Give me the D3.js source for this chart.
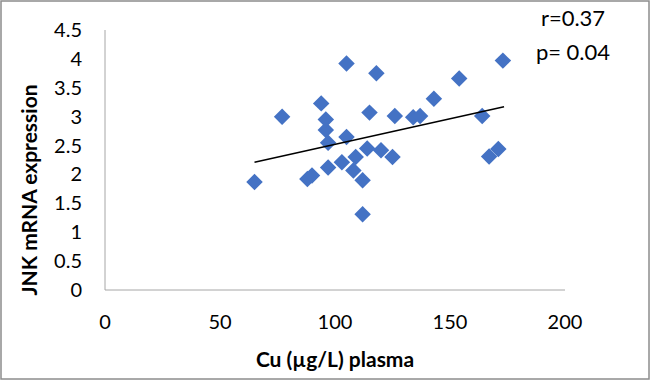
<!DOCTYPE html>
<html>
<head>
<meta charset="utf-8">
<script src="https://cdn.jsdelivr.net/npm/d3@7"></script>
<style>
  html, body { margin: 0; padding: 0; background: #fff; }
  svg { display: block; font-family: Lato, "Open Sans", sans-serif; }
</style>
</head>
<body>
<div id="chart"></div>
<script>
// Cu plasma (x) vs JNK mRNA expression (y)
const cuValues = [65, 77, 88, 90, 94, 96, 96, 97, 97, 103, 105, 105, 108, 109, 112, 112, 114, 115, 118, 120, 125, 126, 134, 137, 143, 154, 164, 167, 171, 173];
const jnkValues = [1.87, 3.0, 1.92, 1.98, 3.23, 2.77, 2.95, 2.12, 2.55, 2.21, 3.92, 2.65, 2.07, 2.3, 1.9, 1.31, 2.45, 3.07, 3.75, 2.42, 2.3, 3.01, 2.99, 3.01, 3.31, 3.66, 3.01, 2.31, 2.44, 3.97];

// linear trend line end points
const trendX = [65, 173.5];
const trendY = [2.21, 3.17];

const xTicks = [0, 50, 100, 150, 200];
const yTicks = [0, 0.5, 1, 1.5, 2, 2.5, 3, 3.5, 4, 4.5];
const statsText = ["r=0.37", "p= 0.04"];

const width = 650;
const height = 381;

const x = d3.scaleLinear().domain([0, 200]).range([105, 565]);
const y = d3.scaleLinear().domain([0, 4.5]).range([290, 30]);

const svg = d3.select("#chart")
    .append("svg")
    .attr("width", width)
    .attr("height", height);

// outer frame
svg.append("rect")
    .attr("x", 1).attr("y", 1)
    .attr("width", width - 2).attr("height", height - 3)
    .attr("fill", "#fff")
    .attr("stroke", "#8c8c8c")
    .attr("stroke-width", 1.5);

// axes lines
svg.append("line")
    .attr("x1", x(0)).attr("x2", x(0))
    .attr("y1", y(4.5)).attr("y2", y(0))
    .attr("stroke", "#a6a6a6").attr("stroke-width", 1);
svg.append("line")
    .attr("x1", x(0)).attr("x2", x(200))
    .attr("y1", y(0)).attr("y2", y(0))
    .attr("stroke", "#a6a6a6").attr("stroke-width", 1);

// tick labels
svg.append("g")
    .selectAll("text")
    .data(yTicks)
    .join("text")
    .attr("x", 82)
    .attr("y", d => y(d))
    .attr("dy", "0.35em")
    .attr("text-anchor", "end")
    .attr("font-size", 20)
    .attr("fill", "#000")
    .text(d => d);

svg.append("g")
    .selectAll("text")
    .data(xTicks)
    .join("text")
    .attr("x", d => x(d))
    .attr("y", 322)
    .attr("dy", "0.35em")
    .attr("text-anchor", "middle")
    .attr("font-size", 20)
    .attr("fill", "#000")
    .text(d => d);

// axis titles
svg.append("text")
    .attr("x", 335)
    .attr("y", 360)
    .attr("dy", "0.35em")
    .attr("text-anchor", "middle")
    .attr("font-size", 21)
    .attr("font-weight", "bold")
    .attr("fill", "#000")
    .text("Cu (µg/L) plasma");

svg.append("text")
    .attr("transform", "translate(30,190) rotate(-90)")
    .attr("dy", "0.35em")
    .attr("text-anchor", "middle")
    .attr("font-size", 21)
    .attr("font-weight", "bold")
    .attr("fill", "#000")
    .text("JNK mRNA expression");

// points as diamonds (rotated squares)
const points = cuValues.map((d, i) => ({ cu: d, jnk: jnkValues[i] }));
const diamond = d3.symbol().type(d3.symbolSquare).size(136);

svg.append("g")
    .selectAll("path")
    .data(points)
    .join("path")
    .attr("d", diamond)
    .attr("transform", d => `translate(${x(d.cu)},${y(d.jnk)}) rotate(45)`)
    .attr("fill", "#4472c4");

// trend line
svg.append("line")
    .attr("x1", x(trendX[0])).attr("y1", y(trendY[0]))
    .attr("x2", x(trendX[1])).attr("y2", y(trendY[1]))
    .attr("stroke", "#000")
    .attr("stroke-width", 1.5);

// stats annotation
svg.append("g")
    .selectAll("text")
    .data(statsText)
    .join("text")
    .attr("x", 573)
    .attr("y", (d, i) => 18 + i * 34)
    .attr("dy", "0.35em")
    .attr("text-anchor", "middle")
    .attr("font-size", 22)
    .attr("fill", "#000")
    .text(d => d);
</script>
</body>
</html>
